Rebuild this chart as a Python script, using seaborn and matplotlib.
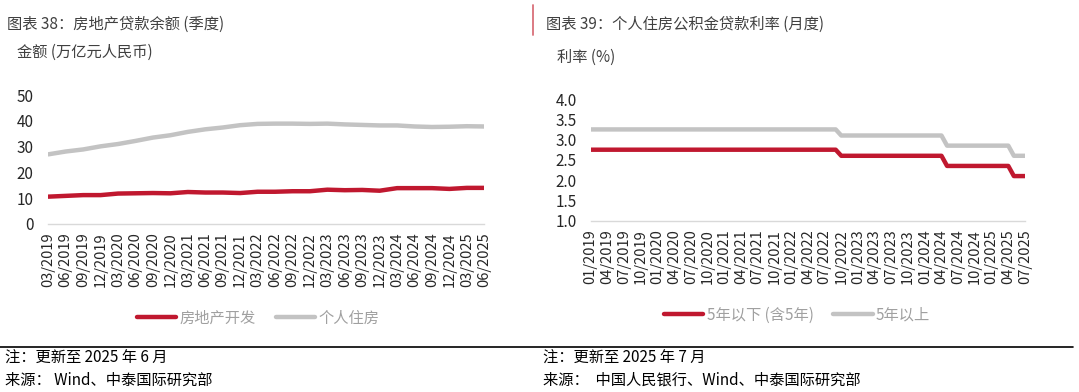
import matplotlib
matplotlib.use("Agg")
import matplotlib.pyplot as plt
from matplotlib.lines import Line2D
import seaborn as sns
import pandas as pd
import numpy as np

# ---------------- data ----------------
q_labels = ["03/2019", "06/2019", "09/2019", "12/2019", "03/2020", "06/2020", "09/2020", "12/2020",
            "03/2021", "06/2021", "09/2021", "12/2021", "03/2022", "06/2022", "09/2022", "12/2022",
            "03/2023", "06/2023", "09/2023", "12/2023", "03/2024", "06/2024", "09/2024", "12/2024",
            "03/2025", "06/2025"]
dev_loans = [10.6, 10.9, 11.2, 11.2, 11.8, 11.9, 12.0, 11.9, 12.4, 12.2, 12.2, 12.0, 12.5, 12.5,
             12.7, 12.7, 13.3, 13.1, 13.2, 12.9, 13.9, 13.9, 13.9, 13.6, 14.0, 14.0]
house_loans = [27.0, 28.1, 28.9, 30.1, 31.0, 32.2, 33.5, 34.4, 35.7, 36.7, 37.4, 38.3, 38.8, 38.9,
               38.9, 38.8, 38.9, 38.6, 38.4, 38.2, 38.2, 37.8, 37.6, 37.7, 37.9, 37.8]
left_series = ["房地产开发", "个人住房"]

m_labels = [d.strftime("%m/%Y") for d in pd.date_range("2019-01-01", "2025-07-01", freq="MS")]
rate_le5 = [2.75] * 45 + [2.6] * 19 + [2.35] * 12 + [2.1] * 3
rate_gt5 = [3.25] * 45 + [3.1] * 19 + [2.85] * 12 + [2.6] * 3
right_series = ["5年以下 (含5年)", "5年以上"]

RED = "#C0182F"
GRAY = "#C3C3C3"

# ---------------- style ----------------
sns.set_style("white")
plt.rcParams["font.family"] = ["Noto Sans CJK SC", "DejaVu Sans"]
plt.rcParams["axes.unicode_minus"] = False

W, H = 1079, 392
fig = plt.figure(figsize=(W / 100, H / 100), dpi=100)


def fx(px):
    return px / W


def fy(py):
    return 1 - py / H


def style_axes(ax, ypad):
    for s in ["left", "top", "right"]:
        ax.spines[s].set_visible(False)
    ax.spines["bottom"].set_color("#D9D9D9")
    ax.spines["bottom"].set_linewidth(1.0)
    ax.tick_params(axis="x", length=4, width=1, color="#D9D9D9", labelsize=10.5,
                   labelcolor="#262626", rotation=90, pad=2)
    ax.tick_params(axis="y", length=0, labelsize=11, labelcolor="#262626", pad=ypad)
    ax.grid(False)
    ax.set_xlabel("")
    ax.set_ylabel("")


# ---------------- left panel ----------------
axL = fig.add_axes([fx(48.3), fy(224), fx(484.3) - fx(48.3), (224 - 95) / H])
dfL = pd.DataFrame({
    "x": list(range(len(q_labels))) * 2,
    "v": dev_loans + house_loans,
    "s": [left_series[0]] * len(q_labels) + [left_series[1]] * len(q_labels),
})
sns.lineplot(data=dfL, x="x", y="v", hue="s", hue_order=left_series,
             palette=[RED, GRAY], linewidth=3.2, ax=axL, legend=False)
for ln in axL.get_lines():
    ln.set_solid_capstyle("round")
axL.set_xlim(0, len(q_labels) - 1)
axL.set_ylim(0, 50)
axL.set_yticks([0, 10, 20, 30, 40, 50])
axL.set_xticks(range(len(q_labels)))
axL.set_xticklabels(q_labels)
style_axes(axL, 10.5)
hL = [Line2D([], [], color=RED, lw=3.2), Line2D([], [], color=GRAY, lw=3.2)]
fig.legend(hL, left_series, loc="center", bbox_to_anchor=(fx(258), fy(318)),
           ncol=2, frameon=False, fontsize=11, labelcolor="#A0A0A0",
           handlelength=2.6, handletextpad=0.2, columnspacing=1.3)

# ---------------- right panel ----------------
axR = fig.add_axes([fx(590.7), fy(220.7), fx(1025) - fx(590.7), (220.7 - 99) / H])
dfR = pd.DataFrame({
    "x": list(range(len(m_labels))) * 2,
    "v": rate_le5 + rate_gt5,
    "s": [right_series[0]] * len(m_labels) + [right_series[1]] * len(m_labels),
})
sns.lineplot(data=dfR, x="x", y="v", hue="s", hue_order=right_series,
             palette=[RED, GRAY], linewidth=3.2, ax=axR, legend=False)
for ln in axR.get_lines():
    ln.set_solid_capstyle("butt")
axR.set_xlim(0, len(m_labels) - 1)
axR.set_ylim(1.0, 4.0)
axR.set_yticks([1.0, 1.5, 2.0, 2.5, 3.0, 3.5, 4.0])
axR.set_yticklabels([f"{v:.1f}" for v in [1.0, 1.5, 2.0, 2.5, 3.0, 3.5, 4.0]])
axR.set_xticks(range(0, len(m_labels), 3))
axR.set_xticklabels(m_labels[::3])
style_axes(axR, 10)
hR = [Line2D([], [], color=RED, lw=3.2), Line2D([], [], color=GRAY, lw=3.2)]
fig.legend(hR, right_series, loc="center", bbox_to_anchor=(fx(797), fy(315)),
           ncol=2, frameon=False, fontsize=11, labelcolor="#A0A0A0",
           handlelength=2.6, handletextpad=0.2, columnspacing=1.3)

# ---------------- texts ----------------
TXT = "#404040"
fig.text(fx(7), fy(24), "图表 38：房地产贷款余额 (季度)", fontsize=11, color=TXT, va="center", ha="left")
fig.text(fx(17), fy(52), "金额 (万亿元人民币)", fontsize=11, color=TXT, va="center", ha="left")
fig.text(fx(546), fy(24), "图表 39：个人住房公积金贷款利率 (月度)", fontsize=11, color=TXT, va="center", ha="left")
fig.text(fx(557), fy(57), "利率 (%)", fontsize=11, color=TXT, va="center", ha="left")

fig.add_artist(Line2D([fx(533), fx(533)], [fy(5), fy(35)], color="#D9707A", lw=1.3,
                      transform=fig.transFigure))
fig.add_artist(Line2D([fx(0), fx(1073)], [fy(346.7), fy(346.7)], color="#000000", lw=1.2,
                      transform=fig.transFigure))

fig.text(fx(5), fy(358), "注：更新至 2025 年 6 月", fontsize=11, color="#000000", va="center", ha="left")
fig.text(fx(5), fy(380), "来源： Wind、中泰国际研究部", fontsize=11, color="#000000", va="center", ha="left")
fig.text(fx(543), fy(358), "注：更新至 2025 年 7 月", fontsize=11, color="#000000", va="center", ha="left")
fig.text(fx(543), fy(380), "来源：  中国人民银行、Wind、中泰国际研究部", fontsize=11, color="#000000", va="center", ha="left")

fig.savefig("out.png", dpi=100)
